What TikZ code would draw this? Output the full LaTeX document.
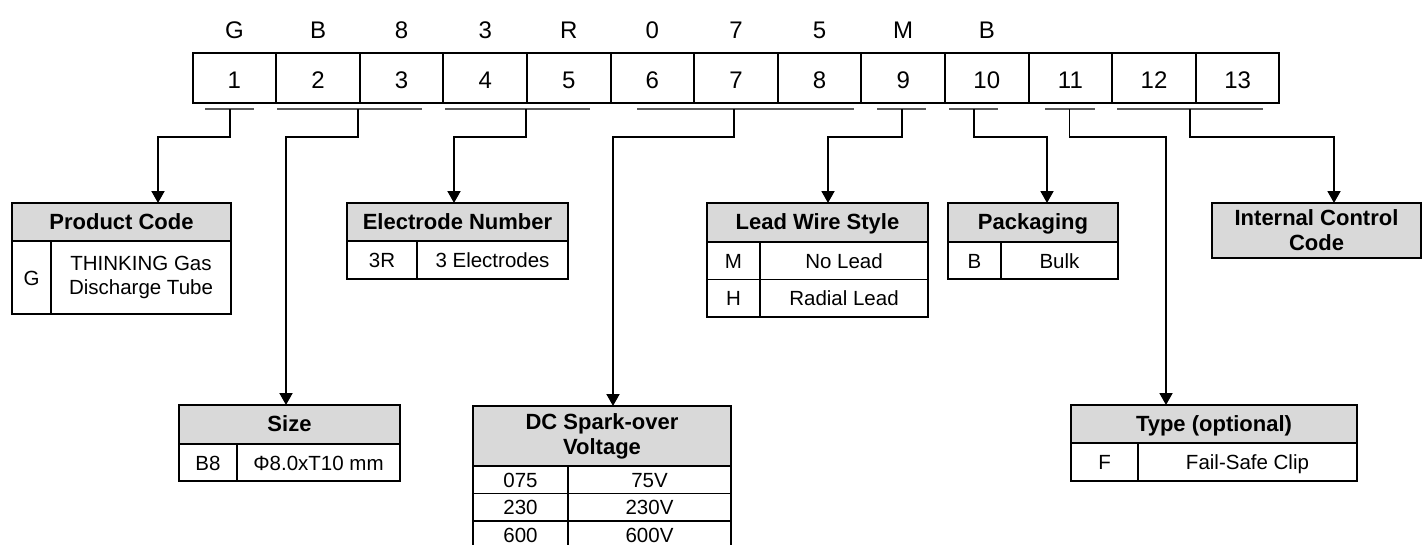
\documentclass[tikz,border=0pt]{standalone}
\usepackage{fontspec}
\setmainfont{Liberation Sans}
\usetikzlibrary{positioning, calc, arrows.meta}
\definecolor{hdrgray}{RGB}{217,217,217}
\definecolor{bargray}{RGB}{90,90,90}
\tikzset{
  tblbox/.style={draw, line width=1.9pt, outer sep=0pt, inner sep=0pt, align=center},
  hdrtwo/.style={tblbox, fill=hdrgray, font=\bfseries\fontsize{22}{25}\selectfont},
  hdr/.style={hdrtwo, text height=18pt, text depth=4pt},
  tcelltwo/.style={tblbox, font=\fontsize{20.5}{24.5}\selectfont},
  tcell/.style={tcelltwo, text height=19pt, text depth=3.6pt},
  codecell/.style={tblbox, minimum width=83.6pt, minimum height=49.5pt, text height=21pt, text depth=0pt, font=\fontsize{24}{28}\selectfont},
  codeletter/.style={inner sep=0pt, text height=17.5pt, text depth=0pt, font=\fontsize{24}{28}\selectfont},
  underbar/.style={line width=2pt, bargray},
  conn/.style={line width=1.9pt, -{Triangle[width=13pt,length=12pt]}},
}
\begin{document}
\begin{tikzpicture}[x=1pt,y=-1pt]
    \useasboundingbox (0,0) rectangle (1424,544);
    %riga del codice
    \foreach \i in {1,...,13} {
      \node[codecell] (c\i) at ({192.6+83.6*(\i-0.5)},77.8) {\i};
    }
    \foreach \l [count=\i] in {G,B,8,3,R,0,7,5,M,B} {
      \node[codeletter, above=14pt of c\i] (l\i) {\l};
    }
    %sottolineature
    \foreach \a/\b/\m [count=\k] in {205/254/230, 277/422/358, 445/590/526, 637/854/734,
                                     877/926/902, 949/998/974, 1045/1095/1069.5, 1117/1263/1190} {
      \draw[underbar] (\a,109.3) -- (\b,109.3);
      \coordinate (u\k) at (\m,109.3);
    }
    %product code
    \node[hdr, minimum width=219pt, minimum height=38pt, anchor=north west] (pc) at (12,203) {Product Code};
    \node[tcell, minimum width=39pt, minimum height=73pt, anchor=north west] (pc1) at (pc.south west) {G};
    \node[tcelltwo, minimum width=180pt, minimum height=73pt, anchor=north west] (pc2) at (pc1.north east) {THINKING Gas\\Discharge Tube};
    %size
    \node[hdr, minimum width=221pt, minimum height=39pt, anchor=north west] (sz) at (179,405) {Size};
    \node[tcell, minimum width=58pt, minimum height=37pt, anchor=north west] (sz1) at (sz.south west) {B8};
    \node[tcell, minimum width=163pt, minimum height=37pt, anchor=north west] (sz2) at (sz1.north east) {Φ8.0xT10 mm};
    %electrode number
    \node[hdr, minimum width=221pt, minimum height=38pt, anchor=north west] (el) at (347,203) {Electrode Number};
    \node[tcell, minimum width=70pt, minimum height=38pt, anchor=north west] (el1) at (el.south west) {3R};
    \node[tcell, minimum width=151pt, minimum height=38pt, anchor=north west] (el2) at (el1.north east) {3 Electrodes};
    %dc spark-over voltage
    \node[hdrtwo, minimum width=258pt, minimum height=60pt, anchor=north west] (dc) at (473,406) {DC Spark-over\\Voltage};
    \foreach \code/\volt [count=\r] in {075/75V, 230/230V, 600/600V} {
      \node[tcell, minimum width=95pt, minimum height=27.5pt, anchor=north west] (dca\r) at ($(dc.south west)+(0,{27.5*(\r-1)})$) {\code};
      \node[tcell, minimum width=163pt, minimum height=27.5pt, anchor=north west] (dcb\r) at (dca\r.north east) {\volt};
    }
    %lead wire style
    \node[hdr, minimum width=221pt, minimum height=39pt, anchor=north west] (lw) at (707,203) {Lead Wire Style};
    \node[tcell, minimum width=53pt, minimum height=37.5pt, anchor=north west] (lw1) at (lw.south west) {M};
    \node[tcell, minimum width=168pt, minimum height=37.5pt, anchor=north west] (lw2) at (lw1.north east) {No Lead};
    \node[tcell, minimum width=53pt, minimum height=37.5pt, anchor=north west] (lw3) at (lw1.south west) {H};
    \node[tcell, minimum width=168pt, minimum height=37.5pt, anchor=north west] (lw4) at (lw3.north east) {Radial Lead};
    %packaging
    \node[hdr, minimum width=170pt, minimum height=39pt, anchor=north west] (pk) at (948,203) {Packaging};
    \node[tcell, minimum width=53pt, minimum height=37pt, anchor=north west] (pk1) at (pk.south west) {B};
    \node[tcell, minimum width=117pt, minimum height=37pt, anchor=north west] (pk2) at (pk1.north east) {Bulk};
    %type
    \node[hdr, minimum width=286pt, minimum height=38pt, anchor=north west] (ty) at (1071,405) {Type (optional)};
    \node[tcell, minimum width=67pt, minimum height=38pt, anchor=north west] (ty1) at (ty.south west) {F};
    \node[tcell, minimum width=219pt, minimum height=38pt, anchor=north west] (ty2) at (ty1.north east) {Fail-Safe Clip};
    %internal control code
    \node[hdrtwo, minimum width=209pt, minimum height=55pt, anchor=north west] (ic) at (1212,203) {Internal Control\\Code};
    %frecce
    \draw[conn] (u1) -- ++(0,27.7) -| ([xshift=36.5pt]pc.north);
    \draw[conn] (u2) -- ++(0,27.7) -| ([xshift=-3.5pt]sz.north);
    \draw[conn] (u3) -- ++(0,27.7) -| ([xshift=-3.5pt]el.north);
    \draw[conn] (u4) -- ++(0,27.7) -| ([xshift=11pt]dc.north);
    \draw[conn] (u5) -- ++(0,27.7) -| ([xshift=10.5pt]lw.north);
    \draw[conn] (u6) -- ++(0,27.7) -| ([xshift=14pt]pk.north);
    \draw[conn] (u7) -- ++(0,27.7) -| ([xshift=-48pt]ty.north);
    \draw[conn] (u8) -- ++(0,27.7) -| ([xshift=17.5pt]ic.north);
\end{tikzpicture}
\end{document}
